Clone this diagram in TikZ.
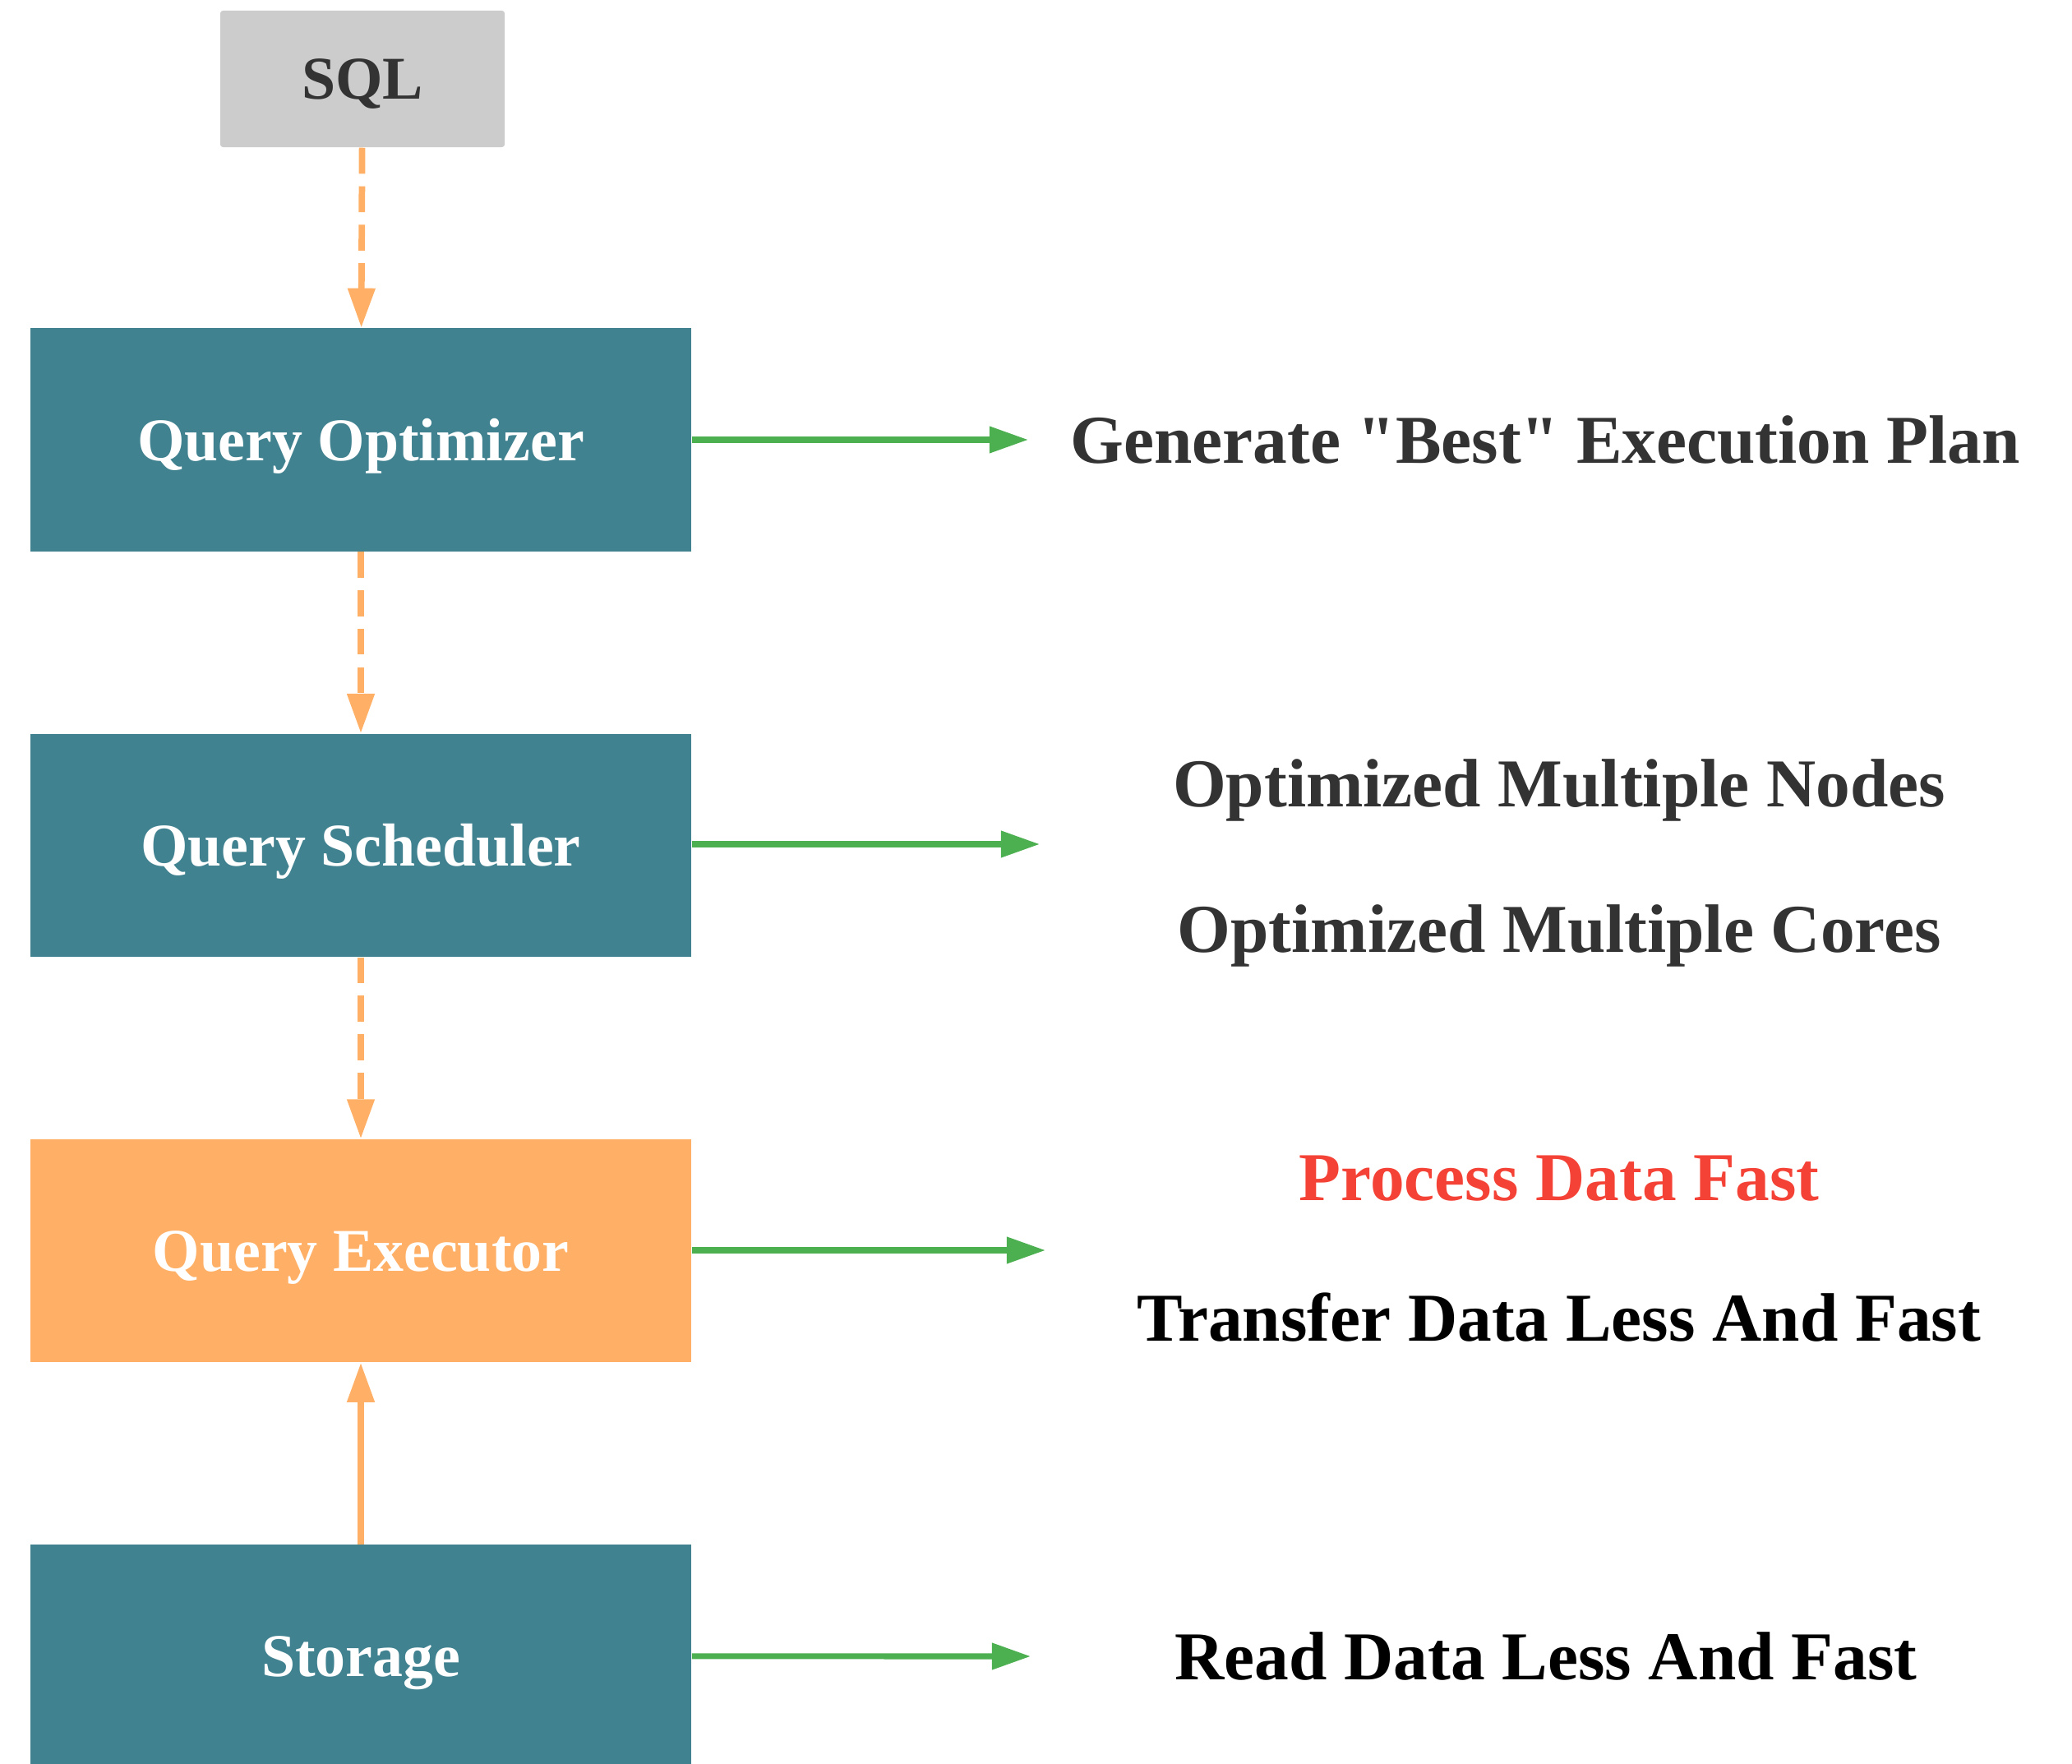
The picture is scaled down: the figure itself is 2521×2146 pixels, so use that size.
\documentclass[tikz,border=0pt]{standalone}
\usepackage{fontspec}
\setmainfont{Liberation Serif}[Ligatures=TeXOff]
\usepackage{xcolor}
\usepackage{tikz}
\usetikzlibrary{arrows.meta, positioning}

\definecolor{stageteal}{HTML}{418290}
\definecolor{stageorange}{HTML}{FFB066}
\definecolor{sqlgray}{HTML}{CCCCCC}
\definecolor{notegray}{HTML}{333333}
\definecolor{resultgreen}{HTML}{4CAF50}
\definecolor{alertred}{HTML}{F44336}

\begin{document}
\begin{tikzpicture}[x=0.01cm, y=-0.01cm, node distance=4.93cm]
    \tikzstyle{stage} = [rectangle, minimum width=8.04cm, minimum height=2.71cm, text depth=0pt, text centered, fill=stageteal, text=white, font=\fontsize{21}{25}\selectfont\bfseries]
    \tikzstyle{hotstage} = [stage, fill=stageorange]
    \tikzstyle{input} = [rectangle, rounded corners=1pt, minimum width=3.46cm, minimum height=1.66cm, text depth=0pt, text centered, fill=sqlgray, text=notegray, font=\fontsize{21}{25}\selectfont\bfseries]
    \tikzstyle{note} = [text=notegray, font=\fontsize{23.7}{28}\selectfont\bfseries]
    \tikzstyle{flow} = [line width=2.2pt, draw=stageorange, -{Triangle[length=4.8mm, width=3.2mm]}]
    \tikzstyle{flowdash} = [flow, dash pattern=on 9pt off 4.3pt]
    \tikzstyle{result} = [line width=2pt, draw=resultgreen, -{Triangle[length=4.7mm, width=3.1mm]}]

    \useasboundingbox (0,0) rectangle (2521,2146);

    \node (sql) [input] at (441,96) {SQL};
    \node (opt) [stage] at (439,535) {Query Optimizer};
    \node (sched) [stage, below of=opt] {Query Scheduler};
    \node (exec) [hotstage, below of=sched] {Query Executor};
    \node (store) [stage, below of=exec] {Storage};

    % what each stage is good for
    \node (plan) [note] at (1880,535) {Generate "Best" Execution Plan};
    \node (nodes) [note] at (1897,961) {Optimized Multiple Nodes};
    \node (cores) [note, below of=nodes, node distance=1.77cm] {Optimized Multiple Cores};
    \node (process) [note, text=alertred] at (1897,1434) {Process Data Fast};
    \node (transfer) [note, text=black, below of=process, node distance=1.68cm] {Transfer Data Less And Fast};
    \node (read) [note, text=black] at (1881,2015) {Read Data Less And Fast};

    \coordinate (planin) at (1251,535);
    \coordinate (schedin) at (1265,1027);
    \coordinate (execin) at (1272,1521);
    \coordinate (readin) at (1254,2015);

    \draw [flowdash] (sql) -- (opt);
    \draw [flowdash] (opt) -- (sched);
    \draw [flowdash] (sched) -- (exec);
    \draw [flow] (store) -- (exec);

    \draw [result] (opt) -- (planin);
    \draw [result] (sched.east |- schedin) -- (schedin);
    \draw [result] (exec.east |- execin) -- (execin);
    \draw [result] (store) -- (readin);
\end{tikzpicture}
\end{document}
